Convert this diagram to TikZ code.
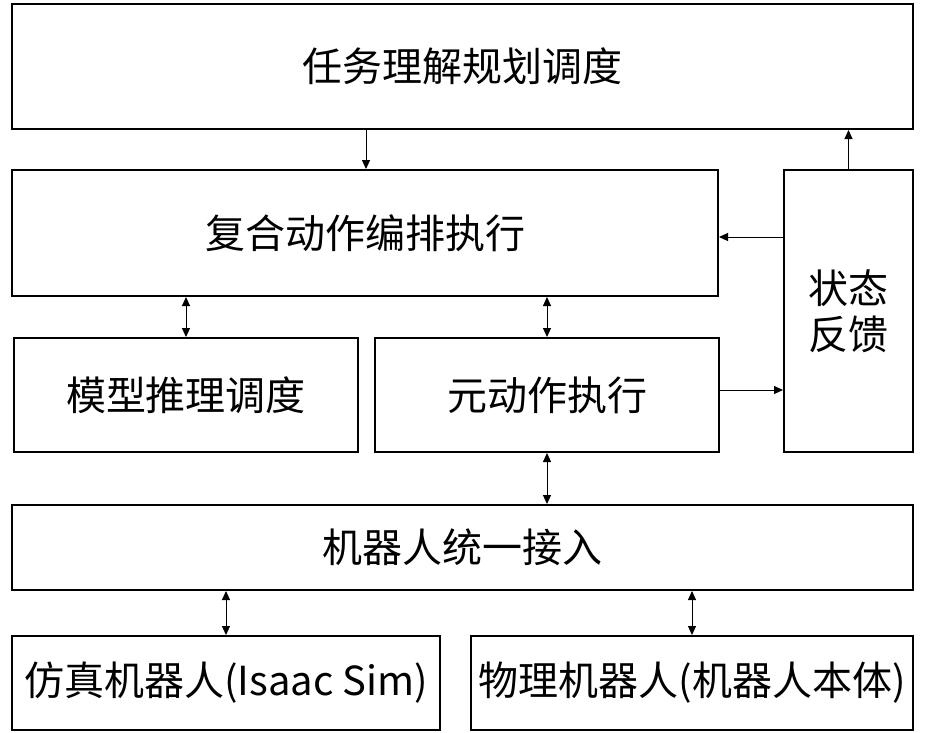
\documentclass[tikz,border=0pt]{standalone}
\usepackage{fontspec}
\setmainfont{Noto Sans CJK SC}
\usetikzlibrary{arrows.meta}
\begin{document}
\begin{tikzpicture}[x=1pt,y=-1pt,
  box/.style={draw=black, line width=2pt, rectangle, inner sep=0pt, align=center,
    font=\fontsize{40}{46}\selectfont},
  arr/.style={line width=1pt, -{Triangle[length=9pt,width=8pt]}},
  darr/.style={line width=1pt, {Triangle[length=9pt,width=8pt]}-{Triangle[length=9pt,width=8pt]}}]
\useasboundingbox[fill=white] (0,0) rectangle (930,732);
\node[box, minimum width=901pt, minimum height=125pt] (top) at (462.5,66.5) {任务理解规划调度};
\node[box, minimum width=706pt, minimum height=126pt] (comp) at (365,233) {复合动作编排执行};
\node[box, minimum width=129pt, minimum height=282pt] (state) at (848.5,311) {状态\\反馈};
\node[box, minimum width=344pt, minimum height=114pt] (model) at (186,395) {模型推理调度};
\node[box, minimum width=344pt, minimum height=114pt] (meta) at (547,395) {元动作执行};
\node[box, minimum width=901pt, minimum height=85pt] (robot) at (462.5,547.5) {机器人统一接入};
\node[box, minimum width=428pt, minimum height=94pt] (sim) at (226,683) {仿真机器人(Isaac Sim)};
\node[box, minimum width=442pt, minimum height=94pt] (phys) at (692,683) {物理机器人(机器人本体)};
\coordinate (xa) at (366,0);
\coordinate (ya) at (0,237);
\coordinate (yb) at (0,390);
\draw[arr] (xa |- top.south) -- (xa |- comp.north);
\draw[arr] (state.north) -- (state.north |- top.south);
\draw[arr] (ya -| state.west) -- (ya -| comp.east);
\draw[arr] (yb -| meta.east) -- (yb -| state.west);
\draw[darr] (model.north) -- (model.north |- comp.south);
\draw[darr] (meta.north) -- (meta.north |- comp.south);
\draw[darr] (meta.south) -- (meta.south |- robot.north);
\draw[darr] (sim.north) -- (sim.north |- robot.south);
\draw[darr] (phys.north) -- (phys.north |- robot.south);
\end{tikzpicture}
\end{document}
